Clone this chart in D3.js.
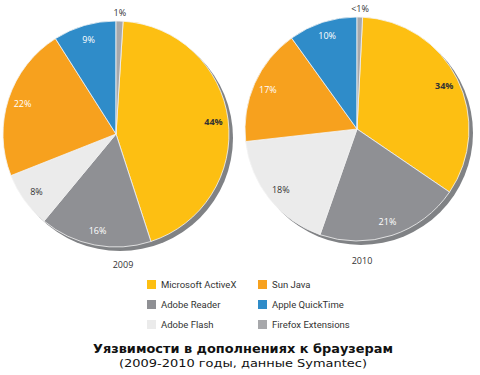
<!DOCTYPE html>
<html>
<head>
<meta charset="utf-8">
<script src="https://cdn.jsdelivr.net/npm/d3@7"></script>
<style>
  body { margin: 0; background: #fff; }
</style>
</head>
<body>
<div id="chart"></div>
<script>
// Категории (порядок по часовой стрелке, Firefox последний — он у самого верха)
const categories = ["Microsoft ActiveX", "Adobe Reader", "Adobe Flash", "Sun Java", "Apple QuickTime", "Firefox Extensions"];
const colors = ["#fdbf12", "#8f9094", "#ebebeb", "#f7a11e", "#2f8cc9", "#a7a8ab"];
const values2009 = [44, 16, 8, 22, 9, 1];
const values2010 = [34, 21, 18, 17, 10, 0.8];
const labels2009 = ["44%", "16%", "8%", "22%", "9%", "1%"];
const labels2010 = ["34%", "21%", "18%", "17%", "10%", "<1%"];
const darkLabel = [true, false, true, false, false, true];

// порядок легенды: две колонки
const legendOrder = ["Microsoft ActiveX", "Sun Java", "Adobe Reader", "Apple QuickTime", "Adobe Flash", "Firefox Extensions"];

const width = 480, height = 375;

const svg = d3.select("#chart")
    .append("svg")
    .attr("width", width)
    .attr("height", height);

const pies = [
    { year: "2009", values: values2009, labels: labels2009, cx: 116, cy: 134, r: 113, yearY: 268, yearX: 123 },
    { year: "2010", values: values2010, labels: labels2010, cx: 357, cy: 129, r: 112, yearY: 264, yearX: 362 }
];

pies.forEach(p => {
    const total = d3.sum(p.values);
    const offset = p.values[5] / total * 2 * Math.PI;

    const pie = d3.pie()
        .sort(null)
        .startAngle(offset)
        .endAngle(offset + 2 * Math.PI);

    const arcs = pie(p.values);
    const arc = d3.arc().innerRadius(0).outerRadius(p.r);
    const labelArc = d3.arc().innerRadius(p.r * 0.87).outerRadius(p.r * 0.87);
    const outerArc = d3.arc().innerRadius(p.r * 1.07).outerRadius(p.r * 1.07);

    const g = svg.append("g")
        .attr("transform", `translate(${p.cx},${p.cy})`);

    // тень
    g.append("circle")
        .attr("cx", 4)
        .attr("cy", 4)
        .attr("r", p.r)
        .attr("fill", "#808285");

    g.selectAll(".slice")
        .data(arcs)
        .enter().append("path")
        .attr("class", "slice")
        .attr("d", arc)
        .attr("fill", (d, i) => colors[i])
        .attr("stroke", "#f4f4f4")
        .attr("stroke-width", 0.8);

    // подписи процентов
    g.selectAll(".lbl")
        .data(arcs)
        .enter().append("text")
        .attr("class", "lbl")
        .attr("transform", (d, i) => `translate(${(i === 5 ? outerArc : labelArc).centroid(d)})`)
        .attr("text-anchor", "middle")
        .attr("dy", "0.35em")
        .style("font-family", "'Open Sans', sans-serif")
        .style("font-size", "9px")
        .style("font-weight", (d, i) => darkLabel[i] && i !== 2 && i !== 5 ? "bold" : "normal")
        .attr("fill", (d, i) => darkLabel[i] ? "#333" : "#fff")
        .text((d, i) => p.labels[i]);

    svg.append("text")
        .attr("x", p.yearX)
        .attr("y", p.yearY)
        .attr("text-anchor", "middle")
        .style("font-family", "'Open Sans', sans-serif")
        .style("font-size", "9px")
        .attr("fill", "#333")
        .text(p.year);
});

// Легенда
const legend = svg.append("g");
legendOrder.forEach((name, k) => {
    const i = categories.indexOf(name);
    const col = k % 2, row = Math.floor(k / 2);
    const x = col === 0 ? 147 : 258;
    const y = 280 + row * 20;
    legend.append("rect")
        .attr("x", x)
        .attr("y", y)
        .attr("width", 9)
        .attr("height", 9)
        .attr("fill", colors[i]);
    legend.append("text")
        .attr("x", x + 14)
        .attr("y", y + 8)
        .style("font-family", "Roboto, sans-serif")
        .style("font-size", "9.5px")
        .attr("fill", "#333")
        .text(name);
});

// Заголовок
svg.append("text")
    .attr("x", 93)
    .attr("y", 353)
    .attr("textLength", 300)
    .attr("lengthAdjust", "spacingAndGlyphs")
    .style("font-family", "'DejaVu Sans', Verdana, sans-serif")
    .style("font-size", "12.5px")
    .style("font-weight", "bold")
    .attr("fill", "#111")
    .text("Уязвимости в дополнениях к браузерам");

svg.append("text")
    .attr("x", 119)
    .attr("y", 367)
    .attr("textLength", 248)
    .attr("lengthAdjust", "spacingAndGlyphs")
    .style("font-family", "'DejaVu Sans', Verdana, sans-serif")
    .style("font-size", "11px")
    .attr("fill", "#111")
    .text("(2009-2010 годы, данные Symantec)");
</script>
</body>
</html>
